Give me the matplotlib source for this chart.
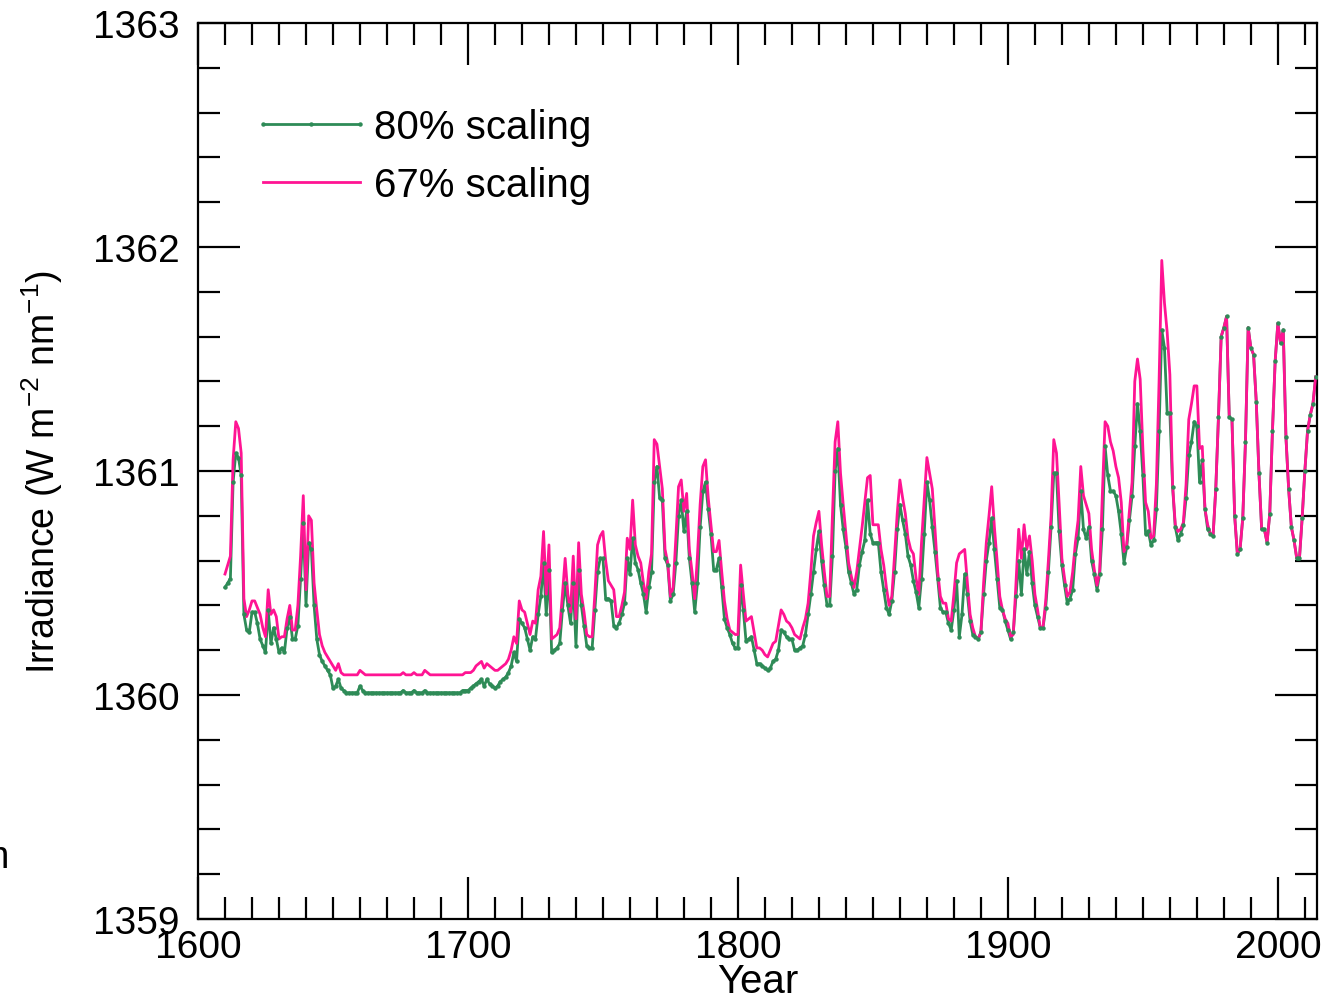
import numpy as np
import matplotlib
matplotlib.use("Agg")
import matplotlib.pyplot as plt
from matplotlib.lines import Line2D
from matplotlib.ticker import MultipleLocator

plt.rcParams['font.family'] = ['Liberation Sans', 'DejaVu Sans']
plt.rcParams['mathtext.fontset'] = 'custom'
plt.rcParams['mathtext.rm'] = 'Liberation Sans'

# Reconstructed total solar irradiance, annual values from 1610
first_year = 1610
last_year = 2014

# 67% scaling, 1610-2014
irr_67 = [
    1360.54, 1360.58, 1360.62, 1361.05, 1361.22, 1361.19, 1361.08, 1360.43, 1360.35, 1360.38,  # 1610s
    1360.42, 1360.42, 1360.39, 1360.36, 1360.30, 1360.26, 1360.47, 1360.36, 1360.38, 1360.35,  # 1620s
    1360.25, 1360.26, 1360.26, 1360.34, 1360.40, 1360.29, 1360.29, 1360.40, 1360.62, 1360.89,  # 1630s
    1360.47, 1360.80, 1360.78, 1360.50, 1360.38, 1360.27, 1360.22, 1360.19, 1360.17, 1360.15,  # 1640s
    1360.13, 1360.11, 1360.14, 1360.10, 1360.09, 1360.09, 1360.09, 1360.09, 1360.09, 1360.09,  # 1650s
    1360.11, 1360.10, 1360.09, 1360.09, 1360.09, 1360.09, 1360.09, 1360.09, 1360.09, 1360.09,  # 1660s
    1360.09, 1360.09, 1360.09, 1360.09, 1360.09, 1360.09, 1360.10, 1360.09, 1360.09, 1360.09,  # 1670s
    1360.10, 1360.09, 1360.09, 1360.09, 1360.11, 1360.10, 1360.09, 1360.09, 1360.09, 1360.09,  # 1680s
    1360.09, 1360.09, 1360.09, 1360.09, 1360.09, 1360.09, 1360.09, 1360.09, 1360.09, 1360.10,  # 1690s
    1360.10, 1360.10, 1360.11, 1360.13, 1360.14, 1360.15, 1360.12, 1360.14, 1360.13, 1360.12,  # 1700s
    1360.11, 1360.11, 1360.12, 1360.13, 1360.14, 1360.16, 1360.20, 1360.26, 1360.23, 1360.42,  # 1710s
    1360.38, 1360.37, 1360.32, 1360.27, 1360.33, 1360.32, 1360.47, 1360.53, 1360.73, 1360.45,  # 1720s
    1360.67, 1360.25, 1360.26, 1360.27, 1360.30, 1360.45, 1360.61, 1360.45, 1360.37, 1360.62,  # 1730s
    1360.34, 1360.68, 1360.45, 1360.37, 1360.27, 1360.26, 1360.26, 1360.45, 1360.67, 1360.71,  # 1740s
    1360.73, 1360.60, 1360.51, 1360.49, 1360.47, 1360.35, 1360.35, 1360.40, 1360.46, 1360.70,  # 1750s
    1360.65, 1360.87, 1360.67, 1360.62, 1360.59, 1360.50, 1360.43, 1360.55, 1360.63, 1361.14,  # 1760s
    1361.12, 1361.02, 1360.92, 1360.65, 1360.59, 1360.44, 1360.48, 1360.70, 1360.93, 1360.96,  # 1770s
    1360.82, 1360.90, 1360.65, 1360.55, 1360.43, 1360.62, 1360.85, 1361.02, 1361.05, 1360.88,  # 1780s
    1360.76, 1360.64, 1360.64, 1360.69, 1360.55, 1360.42, 1360.34, 1360.29, 1360.28, 1360.27,  # 1790s
    1360.27, 1360.58, 1360.45, 1360.33, 1360.34, 1360.35, 1360.28, 1360.21, 1360.21, 1360.20,  # 1800s
    1360.18, 1360.17, 1360.20, 1360.23, 1360.24, 1360.31, 1360.38, 1360.36, 1360.33, 1360.32,  # 1810s
    1360.30, 1360.27, 1360.26, 1360.25, 1360.30, 1360.34, 1360.41, 1360.55, 1360.71, 1360.77,  # 1820s
    1360.82, 1360.67, 1360.55, 1360.44, 1360.44, 1360.80, 1361.13, 1361.22, 1360.99, 1360.85,  # 1830s
    1360.72, 1360.59, 1360.53, 1360.48, 1360.55, 1360.65, 1360.75, 1360.86, 1360.97, 1360.98,  # 1840s
    1360.76, 1360.76, 1360.76, 1360.65, 1360.58, 1360.48, 1360.40, 1360.44, 1360.62, 1360.81,  # 1850s
    1360.96, 1360.88, 1360.81, 1360.70, 1360.65, 1360.63, 1360.52, 1360.45, 1360.68, 1360.87,  # 1860s
    1361.06, 1360.99, 1360.92, 1360.74, 1360.55, 1360.44, 1360.41, 1360.41, 1360.34, 1360.33,  # 1870s
    1360.45, 1360.59, 1360.63, 1360.64, 1360.65, 1360.50, 1360.36, 1360.30, 1360.26, 1360.25,  # 1880s
    1360.28, 1360.50, 1360.68, 1360.80, 1360.93, 1360.75, 1360.60, 1360.44, 1360.38, 1360.34,  # 1890s
    1360.32, 1360.26, 1360.27, 1360.50, 1360.74, 1360.61, 1360.76, 1360.65, 1360.71, 1360.60,  # 1900s
    1360.45, 1360.38, 1360.30, 1360.30, 1360.42, 1360.60, 1360.80, 1361.14, 1361.08, 1360.85,  # 1910s
    1360.61, 1360.52, 1360.44, 1360.46, 1360.55, 1360.68, 1360.78, 1361.02, 1360.89, 1360.85,  # 1920s
    1360.81, 1360.65, 1360.56, 1360.49, 1360.55, 1360.90, 1361.22, 1361.20, 1361.13, 1361.09,  # 1930s
    1361.02, 1360.97, 1360.86, 1360.64, 1360.67, 1360.82, 1360.95, 1361.40, 1361.50, 1361.41,  # 1940s
    1361.10, 1360.86, 1360.82, 1360.70, 1360.71, 1360.94, 1361.40, 1361.94, 1361.75, 1361.62,  # 1950s
    1361.43, 1360.94, 1360.76, 1360.73, 1360.74, 1360.77, 1360.94, 1361.23, 1361.30, 1361.38,  # 1960s
    1361.38, 1361.10, 1361.11, 1360.83, 1360.76, 1360.72, 1360.71, 1360.92, 1361.24, 1361.60,  # 1970s
    1361.64, 1361.69, 1361.24, 1361.23, 1360.80, 1360.63, 1360.65, 1360.79, 1361.13, 1361.64,  # 1980s
    1361.55, 1361.52, 1361.31, 1360.99, 1360.74, 1360.74, 1360.68, 1360.81, 1361.18, 1361.49,  # 1990s
    1361.66, 1361.57, 1361.63, 1361.15, 1360.92, 1360.75, 1360.69, 1360.61, 1360.61, 1360.79,  # 2000s
    1361.00, 1361.18, 1361.25, 1361.30, 1361.42,                                               # 2010s
]

# 80% scaling, 1610-1975 (identical to the 67% curve afterwards)
irr_80_early = [
    1360.48, 1360.50, 1360.52, 1360.95, 1361.08, 1361.06, 1360.98, 1360.36, 1360.29, 1360.28,  # 1610s
    1360.37, 1360.37, 1360.32, 1360.25, 1360.22, 1360.19, 1360.38, 1360.23, 1360.30, 1360.25,  # 1620s
    1360.19, 1360.21, 1360.19, 1360.30, 1360.35, 1360.25, 1360.25, 1360.31, 1360.52, 1360.77,  # 1630s
    1360.40, 1360.68, 1360.65, 1360.40, 1360.25, 1360.18, 1360.15, 1360.13, 1360.11, 1360.09,  # 1640s
    1360.03, 1360.04, 1360.07, 1360.03, 1360.02, 1360.01, 1360.01, 1360.01, 1360.01, 1360.01,  # 1650s
    1360.04, 1360.02, 1360.01, 1360.01, 1360.01, 1360.01, 1360.01, 1360.01, 1360.01, 1360.01,  # 1660s
    1360.01, 1360.01, 1360.01, 1360.01, 1360.01, 1360.01, 1360.02, 1360.01, 1360.01, 1360.01,  # 1670s
    1360.02, 1360.01, 1360.01, 1360.01, 1360.02, 1360.01, 1360.01, 1360.01, 1360.01, 1360.01,  # 1680s
    1360.01, 1360.01, 1360.01, 1360.01, 1360.01, 1360.01, 1360.01, 1360.01, 1360.02, 1360.02,  # 1690s
    1360.02, 1360.03, 1360.04, 1360.05, 1360.06, 1360.07, 1360.04, 1360.07, 1360.05, 1360.04,  # 1700s
    1360.03, 1360.04, 1360.06, 1360.07, 1360.08, 1360.10, 1360.13, 1360.19, 1360.15, 1360.34,  # 1710s
    1360.32, 1360.30, 1360.25, 1360.20, 1360.26, 1360.25, 1360.36, 1360.44, 1360.59, 1360.36,  # 1720s
    1360.56, 1360.19, 1360.20, 1360.21, 1360.23, 1360.38, 1360.50, 1360.40, 1360.32, 1360.50,  # 1730s
    1360.22, 1360.56, 1360.40, 1360.31, 1360.22, 1360.21, 1360.21, 1360.38, 1360.55, 1360.61,  # 1740s
    1360.61, 1360.43, 1360.43, 1360.42, 1360.31, 1360.30, 1360.32, 1360.36, 1360.41, 1360.61,  # 1750s
    1360.54, 1360.70, 1360.59, 1360.56, 1360.50, 1360.45, 1360.37, 1360.48, 1360.55, 1360.95,  # 1760s
    1361.02, 1360.88, 1360.87, 1360.61, 1360.58, 1360.42, 1360.45, 1360.59, 1360.80, 1360.87,  # 1770s
    1360.73, 1360.82, 1360.61, 1360.50, 1360.37, 1360.50, 1360.75, 1360.91, 1360.95, 1360.83,  # 1780s
    1360.72, 1360.56, 1360.56, 1360.61, 1360.48, 1360.34, 1360.30, 1360.27, 1360.23, 1360.21,  # 1790s
    1360.21, 1360.49, 1360.38, 1360.24, 1360.25, 1360.26, 1360.20, 1360.14, 1360.14, 1360.13,  # 1800s
    1360.12, 1360.11, 1360.12, 1360.15, 1360.16, 1360.20, 1360.29, 1360.28, 1360.26, 1360.25,  # 1810s
    1360.25, 1360.20, 1360.20, 1360.21, 1360.22, 1360.27, 1360.36, 1360.45, 1360.55, 1360.65,  # 1820s
    1360.73, 1360.60, 1360.49, 1360.40, 1360.40, 1360.62, 1361.00, 1361.10, 1360.85, 1360.74,  # 1830s
    1360.66, 1360.55, 1360.50, 1360.45, 1360.47, 1360.58, 1360.64, 1360.69, 1360.87, 1360.72,  # 1840s
    1360.68, 1360.68, 1360.68, 1360.55, 1360.47, 1360.39, 1360.36, 1360.42, 1360.55, 1360.74,  # 1850s
    1360.85, 1360.78, 1360.72, 1360.62, 1360.58, 1360.51, 1360.46, 1360.39, 1360.52, 1360.72,  # 1860s
    1360.95, 1360.87, 1360.75, 1360.64, 1360.52, 1360.39, 1360.37, 1360.37, 1360.32, 1360.29,  # 1870s
    1360.38, 1360.51, 1360.26, 1360.36, 1360.54, 1360.45, 1360.33, 1360.27, 1360.26, 1360.25,  # 1880s
    1360.28, 1360.45, 1360.60, 1360.68, 1360.79, 1360.65, 1360.52, 1360.39, 1360.38, 1360.33,  # 1890s
    1360.29, 1360.25, 1360.28, 1360.44, 1360.60, 1360.45, 1360.65, 1360.54, 1360.64, 1360.50,  # 1900s
    1360.40, 1360.35, 1360.30, 1360.30, 1360.39, 1360.55, 1360.75, 1360.99, 1360.99, 1360.73,  # 1910s
    1360.58, 1360.49, 1360.41, 1360.43, 1360.47, 1360.63, 1360.70, 1360.91, 1360.74, 1360.70,  # 1920s
    1360.75, 1360.60, 1360.54, 1360.47, 1360.54, 1360.74, 1361.11, 1360.98, 1360.91, 1360.91,  # 1930s
    1360.89, 1360.82, 1360.72, 1360.59, 1360.66, 1360.78, 1360.89, 1361.11, 1361.30, 1361.18,  # 1940s
    1360.98, 1360.72, 1360.73, 1360.67, 1360.69, 1360.83, 1361.18, 1361.63, 1361.55, 1361.26,  # 1950s
    1361.26, 1360.93, 1360.75, 1360.69, 1360.72, 1360.76, 1360.88, 1361.07, 1361.13, 1361.22,  # 1960s
    1361.20, 1360.95, 1361.05, 1360.83, 1360.74, 1360.72,                                      # 1970s
]

years = np.arange(first_year, last_year + 1)
irr_67 = np.array(irr_67)
irr_80 = np.concatenate([irr_80_early, irr_67[len(irr_80_early):]])

GREEN = '#2e8b57'
PINK = '#ff1493'
LW = 2.0

fig = plt.figure(figsize=(13.35, 10.03), dpi=100)
ax = fig.add_axes([198 / 1335, 1 - 920 / 1003, 1119 / 1335, 896 / 1003])

ax.plot(years, irr_80, color=GREEN, lw=LW, zorder=2)
ax.plot(years, irr_67, color=PINK, lw=LW, zorder=3)
ax.plot(years, irr_80, ls='none', marker='o', ms=2.2, color=GREEN, zorder=4)

ax.set_xlim(1600, 2014.5)
ax.set_ylim(1359, 1363)

ax.xaxis.set_major_locator(MultipleLocator(100))
ax.xaxis.set_minor_locator(MultipleLocator(10))
ax.yaxis.set_major_locator(MultipleLocator(1))
ax.yaxis.set_minor_locator(MultipleLocator(0.2))

ax.tick_params(which='both', direction='in', top=True, right=True, width=1.6, labelsize=28)
ax.tick_params(which='major', length=30)
ax.tick_params(which='minor', length=16)
ax.tick_params(axis='y', pad=13)
ax.tick_params(axis='x', pad=7)
for s in ax.spines.values():
    s.set_linewidth(1.6)

fig.text(42 / 1335, 1 - 472 / 1003,
         r'Irradiance (W m$^{\mathregular{-2}}$ nm$^{\mathregular{-1}}$)',
         rotation=90, ha='center', va='center', fontsize=27)
fig.text(758 / 1335, 1 - 993 / 1003, 'Year', ha='center', va='baseline', fontsize=29)
# clipped fragment at the left margin
fig.text(9 / 1335, 1 - 868 / 1003, 'm', ha='right', va='baseline', fontsize=28)

handles = [Line2D([], [], color=GREEN, lw=LW, marker='o', ms=2.2),
           Line2D([], [], color=PINK, lw=LW)]
ax.legend(handles, ['80% scaling', '67% scaling'], loc='upper left',
          bbox_to_anchor=(0.0474, 0.905), frameon=False, fontsize=29,
          numpoints=3, handlelength=3.0, handletextpad=0.05,
          labelspacing=0.5, borderpad=0, borderaxespad=0)

fig.savefig('out.png', dpi=100)
